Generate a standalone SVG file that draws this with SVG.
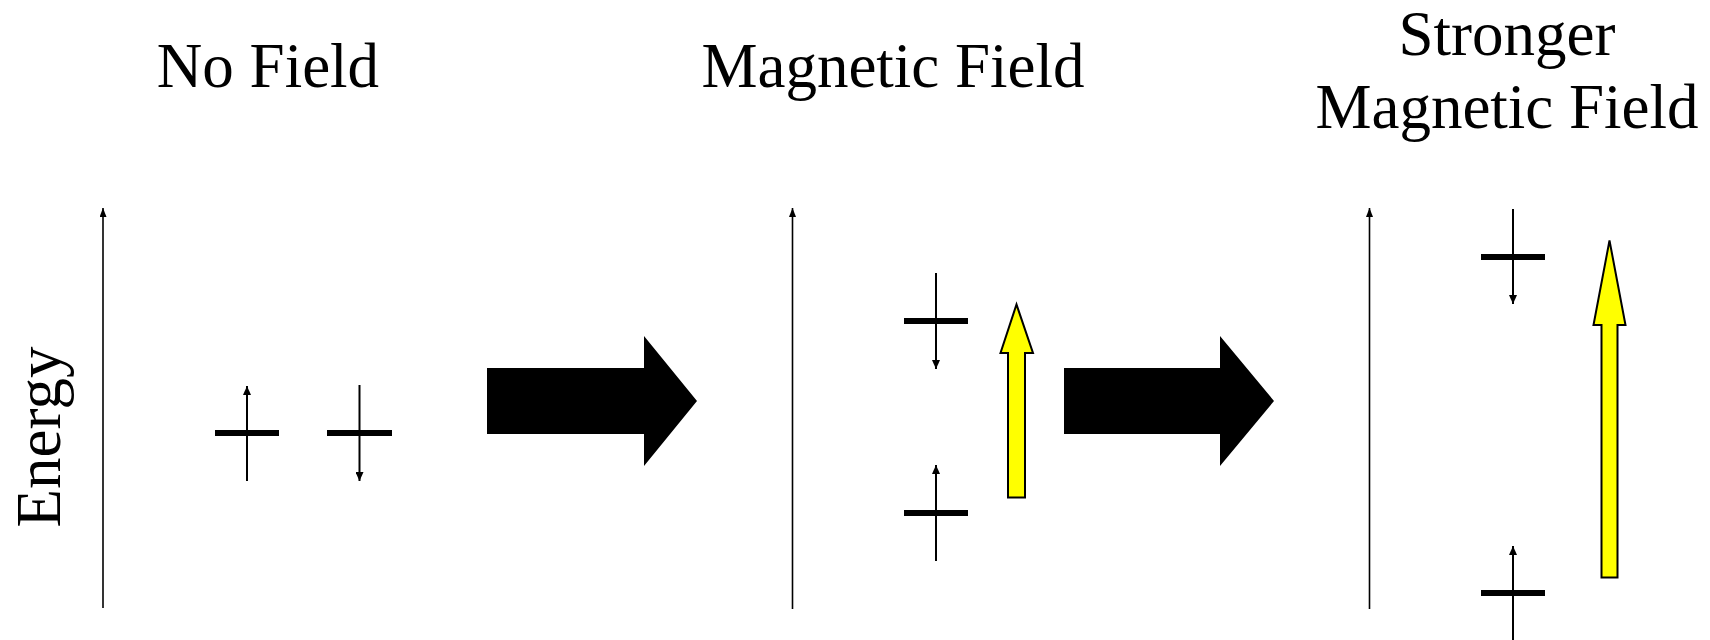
<svg xmlns="http://www.w3.org/2000/svg" width="1710" height="640" viewBox="0 0 1710 640">
<style>
.title{font-family:"Liberation Serif","Times New Roman",serif;font-size:63px;fill:#000;text-anchor:middle}
.axis{stroke:#000;stroke-width:1.6;fill:none}
.spin{stroke:#000;stroke-width:2;fill:none}
.level{stroke:#000;stroke-width:6;fill:none}
.field{fill:#FFFF00;stroke:#000;stroke-width:2}
.big{fill:#000}
</style>
<defs>
<marker id="ah" markerUnits="userSpaceOnUse" markerWidth="9" markerHeight="8" refX="9" refY="4" orient="auto">
<path d="M0,0 L9,4 L0,8 z" fill="#000"/>
</marker>
<marker id="ahs" markerUnits="userSpaceOnUse" markerWidth="9" markerHeight="7" refX="9" refY="3.5" orient="auto">
<path d="M0,0 L9,3.5 L0,7 z" fill="#000"/>
</marker>
</defs>
<rect width="1710" height="640" fill="#fff"/>

<g id="titles">
<text class="title" x="268" y="87">No Field</text>
<text class="title" x="893" y="87">Magnetic Field</text>
<text class="title" x="1507" y="55">Stronger</text>
<text class="title" x="1507" y="128">Magnetic Field</text>
</g>

<g id="energy-label">
<text class="title" transform="translate(60,437) rotate(-90)" x="0" y="0">Energy</text>
</g>

<g id="state-nofield">
<line class="axis" x1="103" y1="608" x2="103" y2="208" marker-end="url(#ahs)"/>
<line class="level" x1="215" y1="433" x2="279" y2="433"/>
<line class="spin" x1="247" y1="481" x2="247" y2="386" marker-end="url(#ah)"/>
<line class="level" x1="327" y1="433" x2="392" y2="433"/>
<line class="spin" x1="359.5" y1="385" x2="359.5" y2="481" marker-end="url(#ah)"/>
</g>

<g id="state-field">
<line class="axis" x1="792.5" y1="609" x2="792.5" y2="208" marker-end="url(#ahs)"/>
<line class="level" x1="904" y1="321" x2="968" y2="321"/>
<line class="spin" x1="936" y1="273" x2="936" y2="369" marker-end="url(#ah)"/>
<line class="level" x1="904" y1="513" x2="968" y2="513"/>
<line class="spin" x1="936" y1="561" x2="936" y2="465" marker-end="url(#ah)"/>
<polygon class="field" points="1008,497.5 1025,497.5 1025,353 1033,353 1016.5,304.5 1000.5,353 1008,353"/>
</g>

<g id="state-stronger">
<line class="axis" x1="1369.5" y1="609" x2="1369.5" y2="208" marker-end="url(#ahs)"/>
<line class="level" x1="1481" y1="257" x2="1545" y2="257"/>
<line class="spin" x1="1513" y1="209" x2="1513" y2="304" marker-end="url(#ah)"/>
<line class="level" x1="1481" y1="593" x2="1545" y2="593"/>
<line class="spin" x1="1513" y1="641" x2="1513" y2="546" marker-end="url(#ah)"/>
<polygon class="field" points="1601.5,577.5 1617.5,577.5 1617.5,325 1625.5,325 1609.5,240.5 1593.5,325 1601.5,325"/>
</g>

<g id="connectors">
<polygon class="big" points="487,368 644,368 644,336 697,401 644,466 644,434 487,434"/>
<polygon class="big" points="1064,368 1220,368 1220,336 1274,401 1220,466 1220,434 1064,434"/>
</g>
</svg>
